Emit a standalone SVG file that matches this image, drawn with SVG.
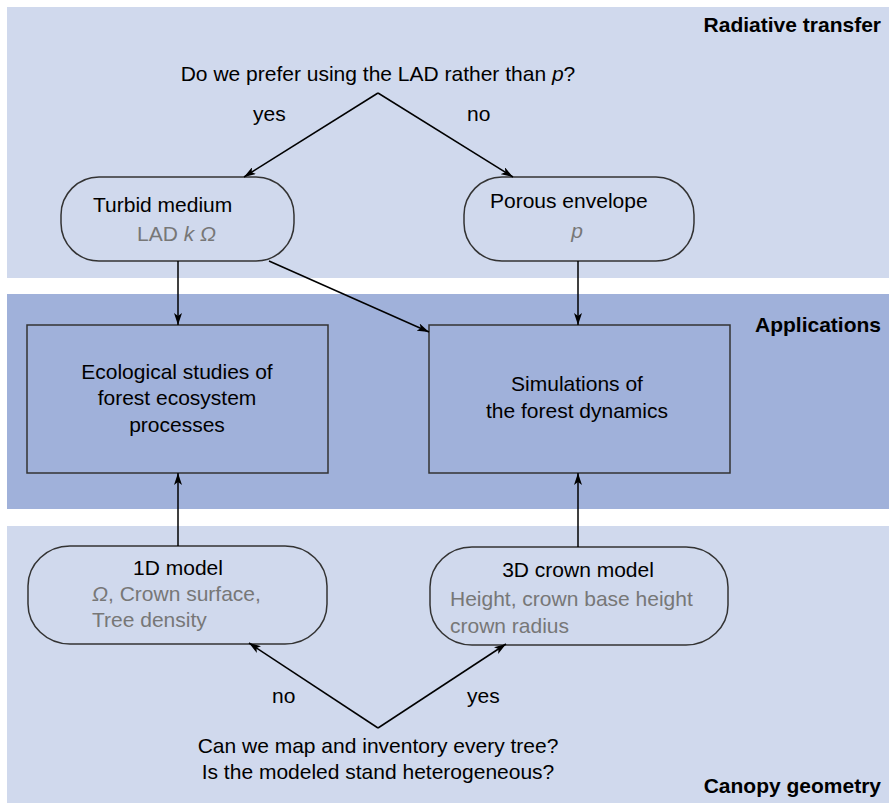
<svg xmlns="http://www.w3.org/2000/svg" width="889" height="805" viewBox="0 0 889 805">
<defs>
<marker id="ah" viewBox="0 0 12 8" refX="12" refY="4" markerWidth="12" markerHeight="8" markerUnits="userSpaceOnUse" orient="auto">
<path d="M0,0 L12,4 L0,8 L3,4 Z" fill="#000"/>
</marker>
<style>
text{font-family:"Liberation Sans",Arial,sans-serif;font-size:21px;fill:#000}
.b{font-weight:bold}
.g{fill:#777}
.c{text-anchor:middle}
.r{text-anchor:end}
.node{fill:none;stroke:#333;stroke-width:1.5}
.box{fill:#a0b1da;stroke:#333;stroke-width:1.5}
.ln{stroke:#000;stroke-width:1.5;fill:none;marker-end:url(#ah)}
</style>
</defs>
<rect width="889" height="805" fill="#fff"/>
<g id="bands">
<rect x="7" y="7" width="882" height="271" fill="#d0d9ed"/>
<rect x="7" y="294" width="882" height="215" fill="#a0b1da"/>
<rect x="7" y="526" width="882" height="277" fill="#d0d9ed"/>
<text class="b r" x="881" y="32">Radiative transfer</text>
<text class="b r" x="881" y="332">Applications</text>
<text class="b r" x="881" y="793">Canopy geometry</text>
</g>
<g id="q1">
<text class="c" x="378" y="81">Do we prefer using the LAD rather than <tspan font-style="italic">p</tspan>?</text>
</g>
<g id="turbid">
<rect class="node" x="61" y="177" width="233" height="84" rx="38" ry="38"/>
<text x="93" y="212">Turbid medium</text>
<text class="g" x="137" y="241">LAD <tspan font-style="italic">k Ω</tspan></text>
</g>
<g id="porous">
<rect class="node" x="464" y="177" width="230" height="84" rx="38" ry="38"/>
<text x="490" y="208">Porous envelope</text>
<text class="g c" x="577" y="238" font-style="italic">p</text>
</g>
<g id="ecological">
<rect class="box" x="27" y="325" width="301" height="148"/>
<text class="c" x="177" y="379">Ecological studies of</text>
<text class="c" x="177" y="405">forest ecosystem</text>
<text class="c" x="177" y="432">processes</text>
</g>
<g id="simulations">
<rect class="box" x="429" y="325" width="301" height="148"/>
<text class="c" x="577" y="391">Simulations of</text>
<text class="c" x="577" y="418">the forest dynamics</text>
</g>
<g id="model1d">
<rect class="node" x="28" y="546" width="299" height="98" rx="42" ry="40"/>
<text class="c" x="178" y="575">1D model</text>
<text class="g" x="92" y="601"><tspan font-style="italic">Ω</tspan>, Crown surface,</text>
<text class="g" x="92" y="627">Tree density</text>
</g>
<g id="model3d">
<rect class="node" x="430" y="547" width="298" height="98" rx="42" ry="40"/>
<text class="c" x="578" y="577">3D crown model</text>
<text class="g" x="450" y="606">Height, crown base height</text>
<text class="g" x="450" y="633">crown radius</text>
</g>
<g id="q2">
<text class="c" x="378" y="753">Can we map and inventory every tree?</text>
<text class="c" x="378" y="779">Is the modeled stand heterogeneous?</text>
</g>
<g id="connectors">
<path class="ln" d="M378,93 L244,177"/>
<path class="ln" d="M378,93 L513,177"/>
<text x="253" y="121">yes</text>
<text x="467" y="121">no</text>
<path class="ln" d="M178,261 L178,325"/>
<path class="ln" d="M578,261 L578,325"/>
<path class="ln" d="M269,261 L429,332"/>
<path class="ln" d="M178,546 L178,473"/>
<path class="ln" d="M578,547 L578,473"/>
<path class="ln" d="M378,728 L249,643"/>
<path class="ln" d="M378,728 L506,644"/>
<text x="272" y="703">no</text>
<text x="467" y="703">yes</text>
</g>
</svg>
